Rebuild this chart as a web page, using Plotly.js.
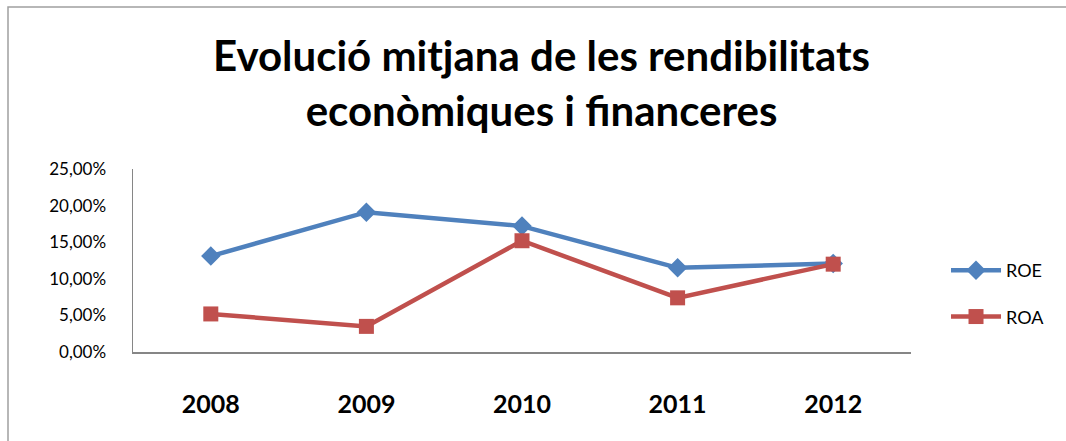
<!DOCTYPE html>
<html><head><meta charset="utf-8">
<script src="https://cdn.plot.ly/plotly-3.0.1.min.js"></script>
<style>html,body{margin:0;padding:0;background:#fff}#c{width:1066px;height:441px}</style>
</head><body><div id="c"></div>
<script>
const years = ['2008','2009','2010','2011','2012'];
const roe = [0.131, 0.191, 0.172, 0.115, 0.121];
const roa = [0.052, 0.035, 0.152, 0.074, 0.120];
const yTicks = [0, 0.05, 0.10, 0.15, 0.20, 0.25];
const fontTxt = 'Lato, "Open Sans", sans-serif';

const traces = [
  {x: years, y: roe, name: 'ROE', legendgroup: 'a', mode: 'lines+markers', type: 'scatter',
   line: {color: '#4F81BD', width: 4.5}, marker: {symbol: 'diamond', size: 15, color: '#4F81BD'}},
  {x: years, y: roa, name: 'ROA', legendgroup: 'b', mode: 'lines+markers', type: 'scatter',
   line: {color: '#C0504D', width: 4.5}, marker: {symbol: 'square', size: 15, color: '#C0504D'}}
];
const layout = {
  width: 1066, height: 441,
  margin: {l: 133, r: 155, t: 169, b: 89},
  paper_bgcolor: '#fff', plot_bgcolor: '#fff',
  separators: ',.',
  showlegend: true,
  title: {text: 'Evolució mitjana de les rendibilitats<br>econòmiques i financeres',
    font: {family: fontTxt, size: 42, color: '#000', weight: 'bold'},
    x: 0.508, xanchor: 'center', yref: 'container', y: 1 - 71/441, yanchor: 'middle'},
  xaxis: {type: 'category', range: [-0.5, 4.5], showgrid: false, zeroline: false, showline: true,
    linecolor: '#868686', linewidth: 1.5, ticks: '', ticklabelstandoff: 29,
    tickfont: {family: fontTxt, size: 25, color: '#000', weight: 'bold'}, fixedrange: true},
  yaxis: {range: [0, 0.25], tickvals: yTicks, tickformat: '.2%', showgrid: false, zeroline: false,
    showline: true, linecolor: '#868686', linewidth: 1.5, ticks: '', ticklabelstandoff: 22,
    tickfont: {family: fontTxt, size: 17, color: '#000'}, fixedrange: true},
  legend: {x: 1.045, y: 0.32, xanchor: 'left', yanchor: 'middle', tracegroupgap: 20,
    traceorder: 'grouped', font: {family: fontTxt, size: 18, color: '#000'}, itemwidth: 50},
  shapes: [{type: 'rect', xref: 'paper', yref: 'paper', x0: (8-133)/778, x1: 1.3, y0: -1, y1: (352-7)/183,
    line: {color: '#a0a0a0', width: 1.5}, fillcolor: 'rgba(0,0,0,0)', layer: 'below'}]
};
Plotly.newPlot('c', traces, layout, {displayModeBar: false, staticPlot: true});
</script></body></html>
